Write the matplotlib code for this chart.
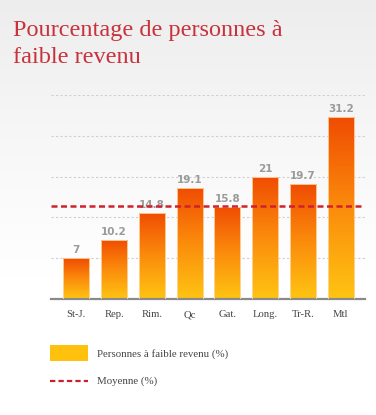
import numpy as np
import matplotlib
matplotlib.use('Agg')
import matplotlib.pyplot as plt
from matplotlib.colors import LinearSegmentedColormap
from matplotlib.patches import Rectangle
from matplotlib.lines import Line2D

# donnees
regions = ['St-J.', 'Rep.', 'Rim.', 'Qc', 'Gat.', 'Long.', 'Tr-R.', 'Mtl']
valeurs = [7, 10.2, 14.8, 19.1, 15.8, 21, 19.7, 31.2]
labels = ['7', '10.2', '14.8', '19.1', '15.8', '21', '19.7', '31.2']
moyenne = 16.0
grille = [7, 14, 21, 28, 35]

W, H = 376, 415
fig = plt.figure(figsize=(W / 100, H / 100), dpi=100)

# fond degrade gris -> blanc
bg = fig.add_axes([0, 0, 1, 1])
grad = np.linspace(0, 1, 256).reshape(-1, 1)
bg_cmap = LinearSegmentedColormap.from_list('bg', ['#ededed', '#f7f7f7', '#ffffff', '#ffffff'])
bg.imshow(grad, aspect='auto', cmap=bg_cmap, extent=[0, 1, 0, 1], origin='upper')
bg.set_xlim(0, 1)
bg.set_ylim(0, 1)
bg.axis('off')

serif = ['Liberation Serif', 'DejaVu Serif']

# titre
fig.text(13 / W, 1 - 36 / H, 'Pourcentage de personnes à', fontsize=17.5, color='#c8323c',
         family=serif, va='baseline', ha='left')
fig.text(13 / W, 1 - 63 / H, 'faible revenu', fontsize=17.5, color='#c8323c',
         family=serif, va='baseline', ha='left')

ax = fig.add_axes([51 / W, 1 - 299 / H, (365 - 51) / W, (299 - 95) / H])
ax.patch.set_alpha(0)
ax.set_xlim(-0.67, 7.64)
ax.set_ylim(0, 35)

for g in grille:
    ax.axhline(g, color='#cfcfcf', lw=0.8, ls=(0, (2, 2)), zorder=1)

bar_cmap = LinearSegmentedColormap.from_list('bar', ['#ffc412', '#fb8c0c', '#f04c02'])
w = 0.69
x = np.arange(len(regions))
for xi, v, lab in zip(x, valeurs, labels):
    im = ax.imshow(np.linspace(0, 1, 200).reshape(-1, 1), cmap=bar_cmap, aspect='auto',
                   extent=[xi - w / 2, xi + w / 2, 0, v], origin='lower', zorder=2)
    r = Rectangle((xi - w / 2, 0), w, v, facecolor='none', edgecolor='#ffd9a8', lw=0.6, zorder=3)
    ax.add_patch(r)
    im.set_clip_path(r)
    ax.text(xi, v + 0.5, lab, ha='center', va='bottom', fontsize=7.5, fontweight='bold',
            color='#9a9a9a', zorder=4)

ax.axhline(moyenne, color='#d0212e', lw=1.8, ls=(0, (2.4, 1.4)), zorder=5)

for s in ['top', 'right', 'left']:
    ax.spines[s].set_visible(False)
ax.spines['bottom'].set_color('#8a8a8a')
ax.spines['bottom'].set_linewidth(1.6)
ax.set_yticks([])
ax.set_xticks(x)
ax.set_xticklabels(regions, family=serif, fontsize=7.7, color='#444444')
ax.tick_params(axis='x', length=0, pad=8)

# legende
bg.add_patch(Rectangle((50 / W, 1 - 361 / H), 38 / W, 16 / H, facecolor='#ffc10e',
                       edgecolor='none', transform=bg.transAxes))
bg.text(97 / W, 1 - 354 / H, 'Personnes à faible revenu (%)', fontsize=7.8, color='#444444',
        family=serif, va='center', ha='left', transform=bg.transAxes)
bg.add_line(Line2D([50 / W, 88 / W], [1 - 381 / H, 1 - 381 / H], color='#c8212e', lw=1.6,
                   ls=(0, (2.4, 1.4)), transform=bg.transAxes))
bg.text(97 / W, 1 - 381 / H, 'Moyenne (%)', fontsize=7.8, color='#444444',
        family=serif, va='center', ha='left', transform=bg.transAxes)

fig.savefig('out.png', dpi=100)
